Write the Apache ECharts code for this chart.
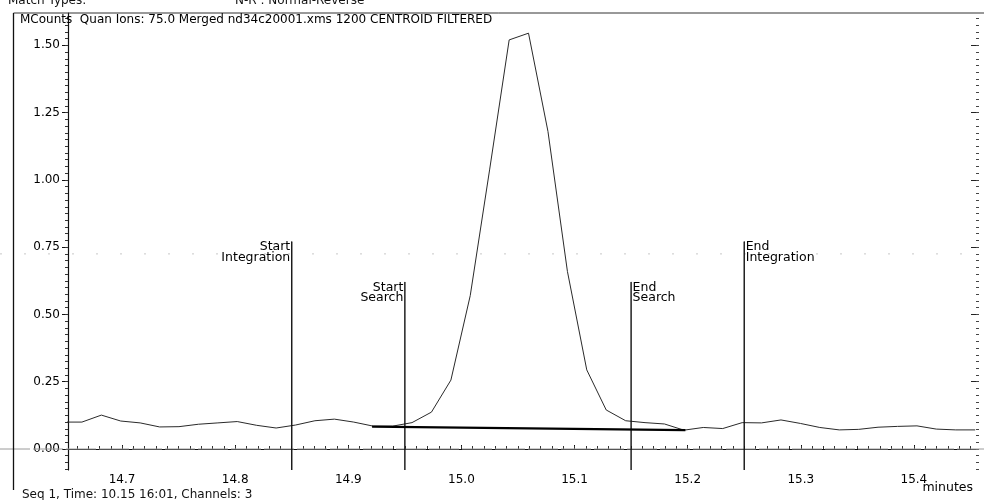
<!DOCTYPE html>
<html>
<head>
<meta charset="utf-8">
<script src="https://cdn.jsdelivr.net/npm/echarts@6/dist/echarts.min.js"></script>
<style>
  html, body { margin: 0; padding: 0; background: #fff; }
  #chart { width: 984px; height: 500px; }
</style>
</head>
<body>
<div id="chart"></div>
<script>
// Ion chromatogram, m/z 75.0 (MCounts vs retention time in minutes)
const times = [
  14.6473, 14.6645, 14.6817, 14.6988, 14.7160, 14.7332, 14.7503, 14.7675,
  14.7847, 14.8018, 14.8190, 14.8362, 14.8533, 14.8705, 14.8877, 14.9048,
  14.9220, 14.9392, 14.9563, 14.9735, 14.9907, 15.0078, 15.0250, 15.0422,
  15.0593, 15.0765, 15.0937, 15.1108, 15.1280, 15.1452, 15.1623, 15.1795,
  15.1967, 15.2138, 15.2310, 15.2482, 15.2653, 15.2825, 15.2997, 15.3168,
  15.3340, 15.3512, 15.3683, 15.3855, 15.4027, 15.4198, 15.4370, 15.4542
];
const counts = [
  0.100, 0.100, 0.126, 0.104, 0.097, 0.082, 0.083, 0.092,
  0.097, 0.102, 0.088, 0.078, 0.089, 0.105, 0.111, 0.100,
  0.085, 0.085, 0.098, 0.137, 0.256, 0.570, 1.040, 1.520,
  1.545, 1.180, 0.660, 0.294, 0.145, 0.105, 0.098, 0.093,
  0.070, 0.080, 0.076, 0.098, 0.097, 0.108, 0.095, 0.080,
  0.071, 0.073, 0.081, 0.084, 0.086, 0.074, 0.071, 0.071
];

// Integration baseline drawn under the peak
const baselineTimes = [14.921, 15.198];
const baselineCounts = [0.083, 0.070];

// Integration / search window markers
const markerTimes = [14.85, 14.95, 15.15, 15.25];
const markerTops = [0.77, 0.62, 0.62, 0.77];
const markerNames = ['Start\nIntegration', 'Start\nSearch', 'End\nSearch', 'End\nIntegration'];
const markerSides = ['left', 'left', 'right', 'right'];

// Axis ranges and tick labels
const xRange = [14.6522, 15.4549];
const yRange = [-0.078, 1.62];
const xTickLabels = [14.7, 14.8, 14.9, 15.0, 15.1, 15.2, 15.3, 15.4];
const yTickLabels = [0.00, 0.25, 0.50, 0.75, 1.00, 1.25, 1.50];

const headerText = 'MCounts  Quan Ions: 75.0 Merged nd34c20001.xms 1200 CENTROID FILTERED';
const footerText = 'Seq 1, Time: 10.15 16:01, Channels: 3';
const topLeftText = 'Match Types:';
const topMidText = 'N-R : Normal-Reverse';
const xUnitText = 'minutes';

const FONT = 'DejaVu Sans';

// minor tick positions between the labelled ones
const xMinor = [];
for (let i = Math.ceil(xRange[0] * 100); i <= Math.floor(xRange[1] * 100); i++) xMinor.push(i / 100);
const yMinor = [];
for (let i = Math.ceil(yRange[0] * 40); i <= Math.floor(yRange[1] * 40); i++) yMinor.push(i / 40);

const chart = echarts.init(document.getElementById('chart'), null, { renderer: 'canvas' });

function yAxisDef(opts) {
  return Object.assign({
    type: 'value', min: yRange[0], max: yRange[1], position: 'left',
    splitLine: { show: false },
    axisLine: { show: false },
    axisLabel: { show: false },
    axisTick: { show: false }
  }, opts);
}
function xAxisDef(opts) {
  return Object.assign({
    type: 'value', min: xRange[0], max: xRange[1], position: 'bottom',
    splitLine: { show: false },
    axisLine: { show: false },
    axisLabel: { show: false },
    axisTick: { show: false }
  }, opts);
}

// vertical window lines from the time axis up to their marker height
const markerSeries = markerTimes.map((t, i) => ({
  type: 'line',
  xAxisIndex: 0, yAxisIndex: 0,
  symbol: 'none',
  silent: true,
  lineStyle: { color: '#111', width: 1.4 },
  z: 4,
  data: [[t, yRange[0]], [t, markerTops[i]]]
}));

// text tags at the top of each window line
const markerLabelSeries = {
  type: 'scatter',
  xAxisIndex: 0, yAxisIndex: 0,
  silent: true,
  symbolSize: 1,
  itemStyle: { color: '#000', opacity: 1 },
  z: 6,
  data: markerTimes.map((t, i) => ({
    value: [t, markerTops[i]],
    label: {
      show: true,
      formatter: markerNames[i],
      position: markerSides[i],
      distance: 1,
      align: markerSides[i] === 'left' ? 'right' : 'left',
      verticalAlign: 'top',
      fontFamily: FONT, fontSize: 12.5, lineHeight: 10.5, color: '#000',
      opacity: 1,
      offset: [0, 0]
    }
  }))
};

chart.setOption({
  animation: false,
  backgroundColor: '#fff',
  grid: { left: 68, right: 8, top: 13, bottom: 30, containLabel: false, outerBoundsMode: 'none' },
  xAxis: [
    xAxisDef({
      axisLine: { show: true, lineStyle: { color: '#111', width: 1.2 } },
      axisLabel: {
        show: true, customValues: xTickLabels, margin: 4,
        formatter: v => v.toFixed(1),
        fontFamily: FONT, fontSize: 12, color: '#000'
      },
      axisTick: { show: true, customValues: xTickLabels, inside: true, length: 4, lineStyle: { color: '#111' } }
    }),
    xAxisDef({
      axisTick: { show: true, customValues: xMinor, inside: true, length: 3, lineStyle: { color: '#333' } }
    })
  ],
  yAxis: [
    yAxisDef({
      axisLine: { show: true, lineStyle: { color: '#111', width: 1.2 } },
      axisLabel: {
        show: true, customValues: yTickLabels, margin: 8,
        formatter: v => v.toFixed(2),
        fontFamily: FONT, fontSize: 12, color: '#000'
      },
      axisTick: { show: true, customValues: yTickLabels, length: 6, lineStyle: { color: '#111' } }
    }),
    yAxisDef({
      axisTick: { show: true, customValues: yMinor, length: 3, lineStyle: { color: '#333' } }
    }),
    yAxisDef({
      position: 'right', offset: 3,
      axisTick: { show: true, customValues: yTickLabels, inside: true, length: 8, lineStyle: { color: '#222' } }
    }),
    yAxisDef({
      position: 'right', offset: 3,
      axisTick: { show: true, customValues: yMinor, inside: true, length: 3, lineStyle: { color: '#444' } }
    })
  ],
  series: [
    {
      name: 'm/z 75.0',
      type: 'line',
      xAxisIndex: 0, yAxisIndex: 0,
      symbol: 'none',
      lineStyle: { color: '#2a2a2a', width: 1 },
      z: 3,
      data: times.map((t, i) => [t, counts[i]])
    },
    {
      name: 'baseline',
      type: 'line',
      xAxisIndex: 0, yAxisIndex: 0,
      symbol: 'none',
      lineStyle: { color: '#000', width: 2.4 },
      z: 5,
      data: baselineTimes.map((t, i) => [t, baselineCounts[i]])
    },
    ...markerSeries,
    markerLabelSeries
  ]
});

// Page furniture: frame, header/footer text and the zero reference line
const zeroY = chart.convertToPixel({ yAxisIndex: 0 }, 0);
const gridLineY = chart.convertToPixel({ yAxisIndex: 0 }, 0.725);
const frameTop = chart.convertToPixel({ yAxisIndex: 0 }, yRange[1]);
const plotRight = chart.convertToPixel({ xAxisIndex: 0 }, xRange[1]);
const unitY = chart.convertToPixel({ yAxisIndex: 0 }, yRange[0]);

chart.setOption({
  graphic: [
    { type: 'line', silent: true, z: 1,
      shape: { x1: 0, y1: zeroY, x2: 984, y2: zeroY },
      style: { stroke: '#9a9a9a', lineWidth: 1, lineDash: [30, 3] } },
    { type: 'line', silent: true, z: 1,
      shape: { x1: 0, y1: gridLineY, x2: 984, y2: gridLineY },
      style: { stroke: '#c8c8c8', lineWidth: 1, lineDash: [2, 22] } },
    { type: 'line', silent: true, z: 6,
      shape: { x1: 13.5, y1: frameTop, x2: 984, y2: frameTop },
      style: { stroke: '#333', lineWidth: 1 } },
    { type: 'line', silent: true, z: 6,
      shape: { x1: 13.5, y1: frameTop, x2: 13.5, y2: 490 },
      style: { stroke: '#111', lineWidth: 1.3 } },
    { type: 'text', silent: true, z: 7, left: 20, top: frameTop + 1,
      style: { text: headerText, fontFamily: FONT, fontSize: 12, fill: '#000' } },
    { type: 'text', silent: true, z: 7, x: 8, y: 7,
      style: { text: topLeftText, fontFamily: FONT, fontSize: 12, fill: '#111', verticalAlign: 'bottom' } },
    { type: 'text', silent: true, z: 7, x: 235, y: 7,
      style: { text: topMidText, fontFamily: FONT, fontSize: 12, fill: '#111', verticalAlign: 'bottom' } },
    { type: 'text', silent: true, z: 7, x: 22, y: 489,
      style: { text: footerText, fontFamily: FONT, fontSize: 12, fill: '#111', verticalAlign: 'top' } },
    { type: 'text', silent: true, z: 7, x: plotRight - 3, y: unitY + 11,
      style: { text: xUnitText, fontFamily: FONT, fontSize: 12.5, fill: '#000', align: 'right', verticalAlign: 'top' } }
  ]
});
</script>
</body>
</html>
